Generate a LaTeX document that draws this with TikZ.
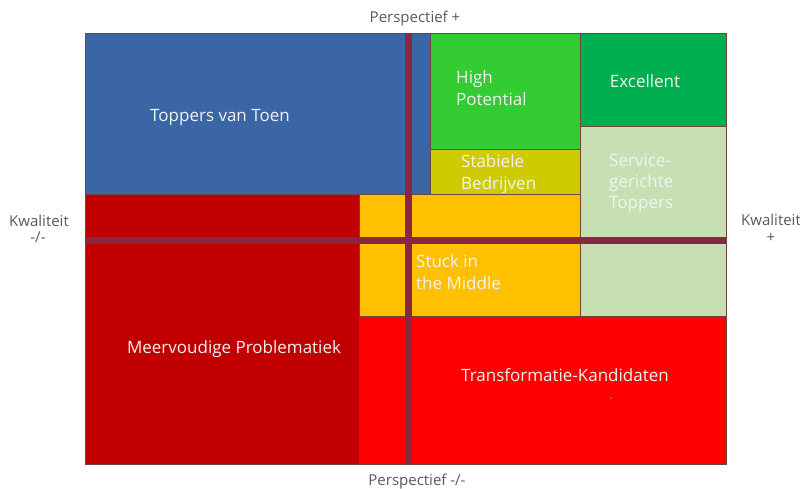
\documentclass[tikz,border=0pt]{standalone}
\usepackage{fontspec}
\setmainfont{Open Sans}
\definecolor{cblue}{RGB}{58,102,166}
\definecolor{cgreen}{RGB}{51,204,51}
\definecolor{cexc}{RGB}{0,176,80}
\definecolor{clight}{RGB}{198,224,180}
\definecolor{colive}{RGB}{206,204,0}
\definecolor{corange}{RGB}{255,192,0}
\definecolor{cred}{RGB}{255,0,0}
\definecolor{cdark}{RGB}{192,0,0}
\definecolor{cbar}{RGB}{135,40,62}
\definecolor{cedge}{RGB}{110,70,60}
\definecolor{ctext}{RGB}{242,242,242}
\definecolor{cgray}{RGB}{89,89,89}
\begin{document}
\begin{tikzpicture}[x=1pt,y=-1pt,
  box/.style={draw=cedge, line width=0.6pt},
  intext/.style={inner sep=0pt, text=ctext, font=\fontsize{17}{22}\selectfont},
  outtext/.style={inner sep=0pt, text=cgray, font=\fontsize{15}{18}\selectfont},
  bar/.style={fill=cbar}]
\useasboundingbox (0,0) rectangle (800,488);
% quadrant boxes
\filldraw[box, fill=cblue] (85,33) rectangle (430,194);
\filldraw[box, fill=cgreen] (430,33) rectangle (580,149);
\filldraw[box, fill=cexc] (580,33) rectangle (726,126);
\filldraw[box, fill=clight] (580,126) rectangle (726,316);
\filldraw[box, fill=colive] (430,149) rectangle (580,194);
\filldraw[box, fill=cdark] (85,194) rectangle (359,464);
\filldraw[box, fill=corange] (359,194) rectangle (580,316);
\filldraw[box, fill=cred] (359,316) rectangle (726,464);
% axis bars
\fill[bar] (404.5,33) rectangle (411.5,464);
\fill[bar] (85,236.5) rectangle (726,243.5);
% small mark
\fill[cgray!60] (611,398) circle (0.8);
% box texts
\node[intext, anchor=base] (ttt) at (220,121) {Toppers van Toen};
\node[intext, anchor=base west] (hp1) at (456,83) {High};
\node[intext, anchor=base west] (hp2) at (456,105) {Potential};
\node[intext, anchor=base] (exc) at (645,87) {Excellent};
\node[intext, anchor=base west] (sb1) at (461,167) {Stabiele};
\node[intext, anchor=base west] (sb2) at (461,189) {Bedrijven};
\node[intext, anchor=base west] (sg1) at (609,166) {Service-};
\node[intext, anchor=base west] (sg2) at (609,187) {gerichte};
\node[intext, anchor=base west] (sg3) at (609,208) {Toppers};
\node[intext, anchor=base west] (sm1) at (416,267) {Stuck in};
\node[intext, anchor=base west] (sm2) at (416,289) {the Middle};
\node[intext, anchor=base] (mp) at (234,353) {Meervoudige Problematiek};
\node[intext, anchor=base] (tk) at (565,381) {Transformatie-Kandidaten};
% axis labels
\node[outtext, anchor=base] (pp) at (415,22) {Perspectief +};
\node[outtext, anchor=base] (pm) at (417,485) {Perspectief -/-};
\node[outtext, anchor=base] (kl1) at (39,226) {Kwaliteit};
\node[outtext, anchor=base] (kl2) at (38,242) {-/-};
\node[outtext, anchor=base] (kr1) at (771,225) {Kwaliteit};
\node[outtext, anchor=base] (kr2) at (771,242) {+};
\end{tikzpicture}
\end{document}
